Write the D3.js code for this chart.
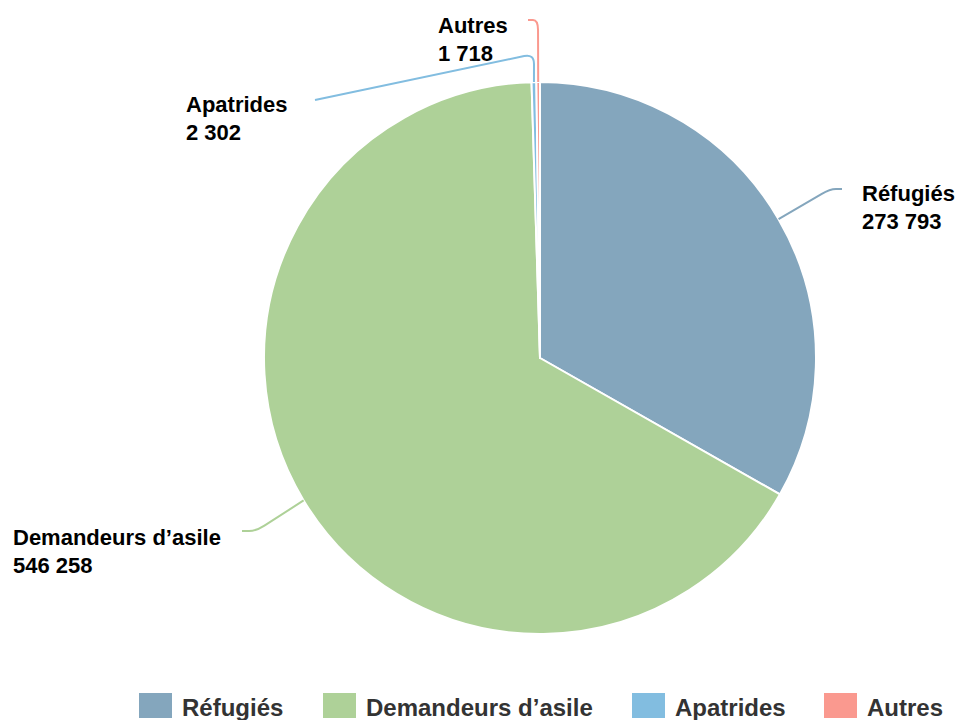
<!DOCTYPE html>
<html>
<head>
<meta charset="utf-8">
<script src="https://cdn.jsdelivr.net/npm/d3@7"></script>
<style>
  html, body { margin: 0; padding: 0; background: #fff; }
  svg { display: block; font-family: "Liberation Sans", Arial, sans-serif; }
</style>
</head>
<body>
<svg id="chart" width="955" height="720"></svg>
<script>
// ---- Data ----
const categories = ["Réfugiés", "Demandeurs d’asile", "Apatrides", "Autres"];
const values = [273793, 546258, 2302, 1718];
const colors = ["#84a6bd", "#aed198", "#82bde0", "#fa998f"];

// ---- Layout (positions only) ----
const cx = 540, cy = 358, R = 276;
// label text anchors [x, baseline of first line]
const labelPos = [[862, 201], [13, 545], [186, 112], [438, 33]];
// connector: label end point and knee point
const connEnd = [[842, 189], [242, 531], [315, 100], [528, 20]];
const connKnee = [[830, 189], [256, 531], [534, 54], [538, 20]];
const legendX = [139, 323, 632, 824];

const fmt = d3.formatLocale({ decimal: ",", thousands: " ", grouping: [3], currency: ["", "€"] }).format(",d");

const svg = d3.select("#chart");
const g = svg.append("g").attr("transform", `translate(${cx},${cy})`);

const pie = d3.pie().sort(null).value(d => d)(values);
const arc = d3.arc().innerRadius(0).outerRadius(R);

g.selectAll("path.slice")
  .data(pie)
  .join("path")
  .attr("class", "slice")
  .attr("d", arc)
  .attr("fill", (d, i) => colors[i])
  .attr("stroke", "#fff")
  .attr("stroke-width", 2)
  .attr("stroke-linejoin", "round");

// connectors
function edgePoint(d) {
  const a = (d.startAngle + d.endAngle) / 2;
  return [cx + R * Math.sin(a), cy - R * Math.cos(a)];
}
function connectorPath(A, K, P, rad) {
  const dx1 = A[0] - K[0], dy1 = A[1] - K[1];
  const l1 = Math.hypot(dx1, dy1);
  const dx2 = P[0] - K[0], dy2 = P[1] - K[1];
  const l2 = Math.hypot(dx2, dy2);
  const r1 = Math.min(rad, l1 / 2), r2 = Math.min(rad, l2 / 2);
  const B = [K[0] + dx1 / l1 * r1, K[1] + dy1 / l1 * r1];
  const C = [K[0] + dx2 / l2 * r2, K[1] + dy2 / l2 * r2];
  return `M${A[0]},${A[1]}L${B[0]},${B[1]}Q${K[0]},${K[1]} ${C[0]},${C[1]}L${P[0]},${P[1]}`;
}
svg.selectAll("path.conn")
  .data(pie)
  .join("path")
  .attr("class", "conn")
  .attr("d", (d, i) => connectorPath(connEnd[i], connKnee[i], edgePoint(d), 10))
  .attr("fill", "none")
  .attr("stroke", (d, i) => colors[i])
  .attr("stroke-width", 2);

// labels
const lab = svg.selectAll("text.lab")
  .data(pie)
  .join("text")
  .attr("class", "lab")
  .attr("x", (d, i) => labelPos[i][0])
  .attr("y", (d, i) => labelPos[i][1])
  .attr("font-size", 22)
  .attr("font-weight", "bold")
  .attr("fill", "#000")
  .attr("stroke", "#fff")
  .attr("stroke-width", 2)
  .attr("paint-order", "stroke")
  .attr("stroke-linejoin", "round");
lab.append("tspan").text((d, i) => categories[i]);
lab.append("tspan")
  .attr("x", (d, i) => labelPos[i][0])
  .attr("dy", 28)
  .text(d => fmt(d.data));

// legend
const leg = svg.selectAll("g.leg")
  .data(categories)
  .join("g")
  .attr("class", "leg")
  .attr("transform", (d, i) => `translate(${legendX[i]},0)`);
leg.append("rect")
  .attr("x", 0).attr("y", 693)
  .attr("width", 33).attr("height", 25)
  .attr("fill", (d, i) => colors[i]);
leg.append("text")
  .attr("x", 43).attr("y", 716)
  .attr("font-size", 24)
  .attr("font-weight", "bold")
  .attr("fill", "#333")
  .text(d => d);
</script>
</body>
</html>
